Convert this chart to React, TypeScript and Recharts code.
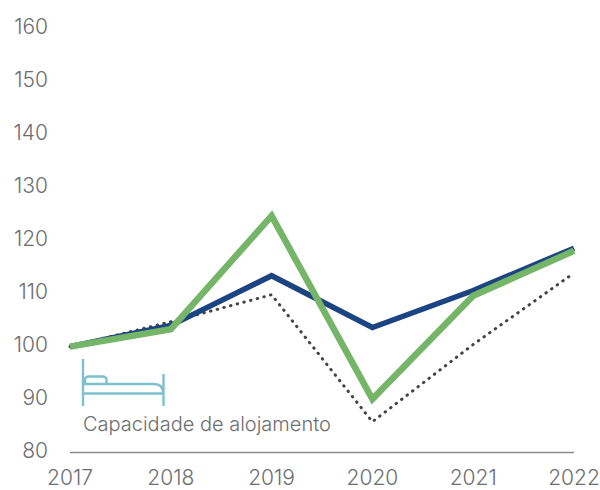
import React from 'react';
import { LineChart, Line, XAxis, YAxis } from 'recharts';

const years = ['2017', '2018', '2019', '2020', '2021', '2022'];
const navySeries = [100, 104, 113.4, 103.6, 110.6, 118.6];
const greenSeries = [100, 103.3, 124.7, 90.1, 109.6, 118.1];
const dottedSeries = [100, 104.7, 109.8, 85.8, 100.4, 113.9];
const yTicks = [80, 90, 100, 110, 120, 130, 140, 150, 160];
const caption = 'Capacidade de alojamento';

const chartData = years.map((year, i) => ({
  year,
  navy: navySeries[i],
  green: greenSeries[i],
  dotted: dottedSeries[i]
}));

const FONT = 'Inter, sans-serif';
const TEXT_COLOR = '#6d6e71';
const ICON_COLOR = '#7cc1cd';

// Bed pictogram above the caption
const BedIcon = () => (
  <svg
    width={600}
    height={490}
    style={{ position: 'absolute', left: 0, top: 0, pointerEvents: 'none' }}
  >
    <g fill="none" stroke={ICON_COLOR} strokeWidth={2.4}>
      <path d="M83 359V406" />
      <path d="M163.500 374V406" />
      <path d="M83 384H154Q163 384 163 393" />
      <path d="M83 393.500H163" />
      <path d="M85 384V380Q85 376.500 89 376.500H102Q106.500 376.500 106.500 380V384" />
    </g>
    <text x={83} y={431} fontFamily={FONT} fontWeight={300} fontSize={20} fill={TEXT_COLOR}>
      {caption}
    </text>
  </svg>
);

export default function App() {
  return (
    <div style={{ position: 'absolute', left: 0, top: 0, width: 600, height: 490 }}>
      <LineChart
        width={600}
        height={490}
        data={chartData}
        margin={{ top: 29, right: 26, bottom: 0, left: 0 }}
      >
        <XAxis
          dataKey="year"
          scale="point"
          height={37.5}
          padding={{ left: 0, right: 0 }}
          stroke="#8a8a8a"
          strokeWidth={1.5}
          tickLine={false}
          tickSize={0}
          tickMargin={18}
          interval={0}
          tick={{ fill: TEXT_COLOR, fontSize: 21, fontFamily: FONT, fontWeight: 300 }}
        />
        <YAxis
          width={70}
          domain={[80, 160]}
          ticks={yTicks}
          axisLine={false}
          tickLine={false}
          tickMargin={16}
          interval={0}
          tick={{ fill: TEXT_COLOR, fontSize: 21, fontFamily: FONT, fontWeight: 300, dy: -2 }}
        />
        <Line
          dataKey="dotted"
          type="linear"
          stroke="#444444"
          strokeWidth={3}
          strokeDasharray="0.5 6.4"
          strokeLinecap="round"
          dot={false}
          isAnimationActive={false}
        />
        <Line
          dataKey="navy"
          type="linear"
          stroke="#1c4482"
          strokeWidth={5.5}
          dot={false}
          isAnimationActive={false}
        />
        <Line
          dataKey="green"
          type="linear"
          stroke="#74b568"
          strokeWidth={6.5}
          dot={false}
          isAnimationActive={false}
        />
      </LineChart>
      <BedIcon />
    </div>
  );
}
